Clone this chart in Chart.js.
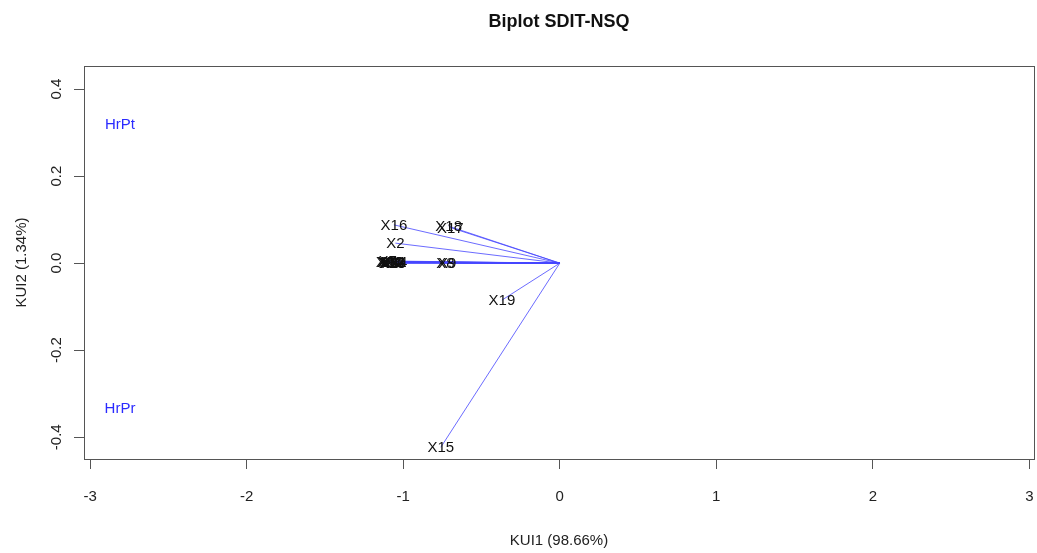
<!DOCTYPE html>
<html>
<head>
<meta charset="utf-8">
<script src="https://cdn.jsdelivr.net/npm/chart.js@4/dist/chart.umd.min.js"></script>
<style>
  html, body { margin: 0; padding: 0; background: #fff; }
  #wrap { width: 1037px; height: 553px; }
</style>
</head>
<body>
<div id="wrap"><canvas id="c" width="1037" height="553"></canvas></div>
<script>
// ---- data ----
const varNames = ['X1','X3','X4','X5','X6','X7','X10','X11','X12','X13','X14','X20','X8','X9','X2','X16','X17','X18','X19','X15'];
const varX = [-1.11,-1.08,-1.07,-1.09,-1.06,-1.10,-1.07,-1.06,-1.08,-1.07,-1.06,-1.09,-0.73,-0.72,-1.05,-1.06,-0.70,-0.71,-0.37,-0.76];
const varY = [0.003,0.001,0.004,0.000,0.002,0.005,0.000,0.003,0.004,0.001,0.002,0.002,0.000,0.001,0.046,0.088,0.082,0.085,-0.085,-0.423];
const obsNames = ['HrPt','HrPr'];
const obsX = [-2.81,-2.81];
const obsY = [0.32,-0.333];
const xTicks = [-3,-2,-1,0,1,2,3];
const yTicks = [-0.4,-0.2,0.0,0.2,0.4];

const FONT = "'Liberation Sans', Arial, sans-serif";

const datasets = [];
varNames.forEach((n, i) => {
  datasets.push({
    label: n, kind: 'var',
    data: [{x: 0, y: 0}, {x: varX[i], y: varY[i]}],
    showLine: true, borderColor: 'rgba(70,70,255,0.8)', borderWidth: 1,
    pointRadius: 0, pointHoverRadius: 0
  });
});
datasets.push({
  label: 'obs', kind: 'obs',
  data: obsX.map((x, i) => ({x: x, y: obsY[i]})),
  showLine: false, pointRadius: 0, pointHoverRadius: 0
});

const labelPlugin = {
  id: 'labels',
  afterDatasetsDraw(chart) {
    const ctx = chart.ctx;
    ctx.save();
    ctx.font = '15px ' + FONT;
    ctx.textAlign = 'center';
    ctx.textBaseline = 'middle';
    chart.data.datasets.forEach((ds, di) => {
      const meta = chart.getDatasetMeta(di);
      if (ds.kind === 'var') {
        const p = meta.data[1];
        ctx.fillStyle = '#111';
        ctx.fillText(ds.label, p.x, p.y + 1);
      } else {
        ctx.fillStyle = '#2a2aff';
        meta.data.forEach((p, k) => ctx.fillText(obsNames[k], p.x, p.y + 1));
      }
    });
    ctx.restore();
  },
  afterDraw(chart) {
    const a = chart.chartArea, ctx = chart.ctx;
    ctx.save();
    ctx.strokeStyle = '#555';
    ctx.lineWidth = 1;
    ctx.strokeRect(Math.round(a.left) + 0.5, Math.round(a.top) + 0.5, Math.round(a.right - a.left), Math.round(a.bottom - a.top));
    ctx.restore();
  }
};

new Chart(document.getElementById('c'), {
  type: 'scatter',
  data: { datasets: datasets },
  plugins: [labelPlugin],
  options: {
    responsive: false,
    animation: false,
    layout: { padding: { left: 0, right: 3, top: 0, bottom: 0 } },
    plugins: {
      legend: { display: false },
      tooltip: { enabled: false },
      title: {
        display: true, text: 'Biplot SDIT-NSQ', fullSize: false,
        color: '#111', font: { family: FONT, size: 18, weight: 'bold' },
        padding: { top: 11, bottom: 33.4 }
      }
    },
    scales: {
      x: {
        type: 'linear', min: -3.04, max: 3.03,
        afterBuildTicks: s => { s.ticks = xTicks.map(v => ({ value: v })); },
        afterFit: s => { s.height = 94; s.paddingLeft = 0; s.paddingRight = 0; },
        ticks: { color: '#222', font: { family: FONT, size: 15 }, padding: 19, callback: v => String(v) },
        grid: { drawOnChartArea: false, drawTicks: true, tickLength: 10, color: '#555' },
        border: { display: false },
        title: { display: true, text: 'KUI1 (98.66%)', color: '#222', font: { family: FONT, size: 15 }, padding: { top: 0, bottom: 3 } }
      },
      y: {
        type: 'linear', min: -0.45, max: 0.453,
        afterBuildTicks: s => { s.ticks = yTicks.map(v => ({ value: v })); },
        afterFit: s => { s.width = 84; s.paddingTop = 0; s.paddingBottom = 0; },
        ticks: { color: '#222', font: { family: FONT, size: 15 }, padding: 4, minRotation: 90, maxRotation: 90, crossAlign: 'center', callback: v => Number(v).toFixed(1) },
        grid: { drawOnChartArea: false, drawTicks: true, tickLength: 10, color: '#555' },
        border: { display: false },
        title: { display: true, text: 'KUI2 (1.34%)', color: '#222', font: { family: FONT, size: 15 }, padding: { top: 13, bottom: 0 } }
      }
    }
  }
});
</script>
</body>
</html>
